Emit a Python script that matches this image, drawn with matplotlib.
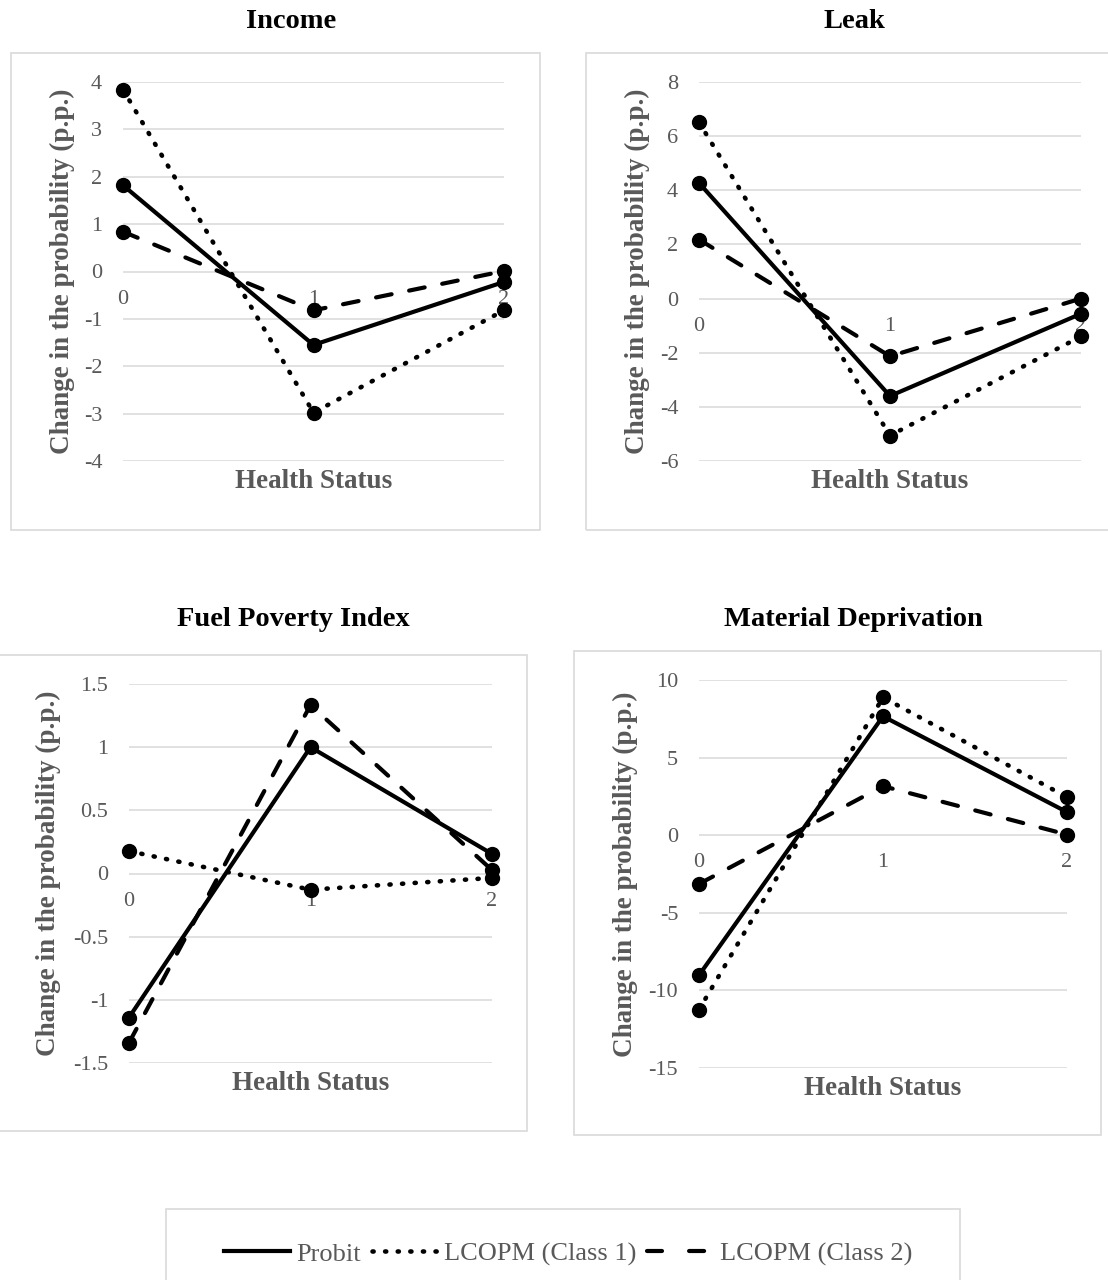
import numpy as np
import matplotlib
matplotlib.use("Agg")
import matplotlib.pyplot as plt
from matplotlib.lines import Line2D
from matplotlib.patches import Rectangle

plt.rcParams["font.family"] = ["Liberation Serif", "DejaVu Serif"]
plt.rcParams["axes.unicode_minus"] = False

############################################################################
# DATA
health_status = [0, 1, 2]
series_names = ["Probit", "LCOPM (Class 1)", "LCOPM (Class 2)"]

income_probit = [1.82, -1.55, -0.22]
income_class1 = [3.84, -2.98, -0.82]
income_class2 = [0.84, -0.82, 0.01]

leak_probit = [4.27, -3.6, -0.56]
leak_class1 = [6.51, -5.06, -1.4]
leak_class2 = [2.18, -2.13, 0.0]

fuel_probit = [-1.14, 1.0, 0.155]
fuel_class1 = [0.177, -0.128, -0.035]
fuel_class2 = [-1.34, 1.333, 0.027]

matdep_probit = [-9.02, 7.66, 1.49]
matdep_class1 = [-11.24, 8.88, 2.45]
matdep_class2 = [-3.14, 3.16, 0.04]

panel_titles = ["Income", "Leak", "Fuel Poverty Index", "Material Deprivation"]
panel_ylims = [(-4, 4), (-6, 8), (-1.5, 1.5), (-15, 10)]
panel_ysteps = [1, 2, 0.5, 5]
############################################################################

W, H = 1108, 1280
GREY_TXT = "#595959"
GREY_LN = "#d9d9d9"


def px_rect(x0, y0, x1, y1):
    # pixel box (top-left origin) -> figure fraction [l, b, w, h]
    return [x0 / W, 1 - y1 / H, (x1 - x0) / W, (y1 - y0) / H]


# line styles for the three series (Probit, Class 1, Class 2)
styles = [
    dict(linestyle="-", lw=3),
    dict(linestyle=(0, (0.25, 2.5)), dash_capstyle="round", lw=3.3),
    dict(linestyle=(0, (3.8, 4.3)), dash_capstyle="round", lw=3),
]
# the legend keys use a slightly longer gap for the dashed line
legend_styles = [
    dict(linestyle="-", lw=3),
    dict(linestyle=(0, (0.25, 2.5)), dash_capstyle="round", lw=3.3),
    dict(linestyle=(0, (3.6, 6.5)), dash_capstyle="round", lw=3),
]

panels = [
    (income_probit, income_class1, income_class2),
    (leak_probit, leak_class1, leak_class2),
    (fuel_probit, fuel_class1, fuel_class2),
    (matdep_probit, matdep_class1, matdep_class2),
]

# layout in pixels: axes box, chart frame, title position, ylabel x offset
axes_px = [(123, 82, 504, 461), (699, 82, 1081, 461),
           (129, 684, 492, 1063), (699, 680, 1067, 1068)]
frame_px = [(11, 53, 540, 530), (586, 53, 1120, 530),
            (-5, 655, 527, 1131), (574, 651, 1101, 1135)]
title_px = [(291, 21), (854, 21), (293, 619), (853, 619)]
ylab_x = [-0.159, -0.162, -0.223, -0.201]

fig = plt.figure(figsize=(W / 100, H / 100), dpi=100)

for i, series in enumerate(panels):
    # chart frame
    x0, y0, x1, y1 = frame_px[i]
    l, b, w, h = px_rect(x0, y0, x1, y1)
    fig.patches.append(Rectangle((l, b), w, h, transform=fig.transFigure,
                                 fill=False, edgecolor=GREY_LN, lw=1.2))

    ax = fig.add_axes(px_rect(*axes_px[i]))
    ax.patch.set_alpha(0)
    lo, hi = panel_ylims[i]
    ax.set_xlim(0, 2)
    ax.set_ylim(lo, hi)
    yt = np.arange(lo, hi + panel_ysteps[i] / 2, panel_ysteps[i])
    ax.set_yticks(yt)
    ax.set_yticklabels([f"{v:g}" for v in yt])
    ax.set_xticks([])
    ax.tick_params(axis="y", length=0, pad=15, labelsize=16, labelcolor=GREY_TXT)
    for s in ax.spines.values():
        s.set_visible(False)
    ax.grid(axis="y", color=GREY_LN, lw=1.1)
    ax.set_axisbelow(True)

    # the three series
    for vals, st in zip(series, styles):
        ax.plot(health_status, vals, color="black", clip_on=False, zorder=3, **st)
        ax.plot(health_status, vals, "o", color="black", ms=10, clip_on=False, zorder=4)

    # category labels sit just under the zero line
    for xv in health_status:
        ax.annotate(str(xv), (xv, 0), xytext=(0, -20), textcoords="offset points",
                    ha="center", va="center", fontsize=16, color=GREY_TXT, zorder=2)

    ax.text(ylab_x[i], 0.5, "Change in the probability (p.p.)", transform=ax.transAxes,
            rotation=90, ha="center", va="center", fontsize=19.5,
            fontweight="bold", color=GREY_TXT)
    ax.annotate("Health Status", (0.5, 0), xycoords="axes fraction", xytext=(0, -15),
                textcoords="offset points", ha="center", va="center",
                fontsize=19.5, fontweight="bold", color=GREY_TXT)

    tx, ty = title_px[i]
    fig.text(tx / W, 1 - ty / H, panel_titles[i], ha="center", va="center",
             fontsize=20.5, fontweight="bold", color="black")

# legend box at the bottom
l, b, w, h = px_rect(166, 1209, 960, 1290)
fig.patches.append(Rectangle((l, b), w, h, transform=fig.transFigure,
                             fill=False, edgecolor=GREY_LN, lw=1.2))

handles = [Line2D([], [], color="black", **st) for st in legend_styles]
fig.legend(handles, series_names, loc="center", bbox_to_anchor=(568 / W, 1 - 1254 / H),
           ncol=3, frameon=False, fontsize=19, handlelength=2.5, handletextpad=0.25,
           columnspacing=0.4, labelcolor=GREY_TXT, borderpad=0)

fig.savefig("out.png", dpi=100)
